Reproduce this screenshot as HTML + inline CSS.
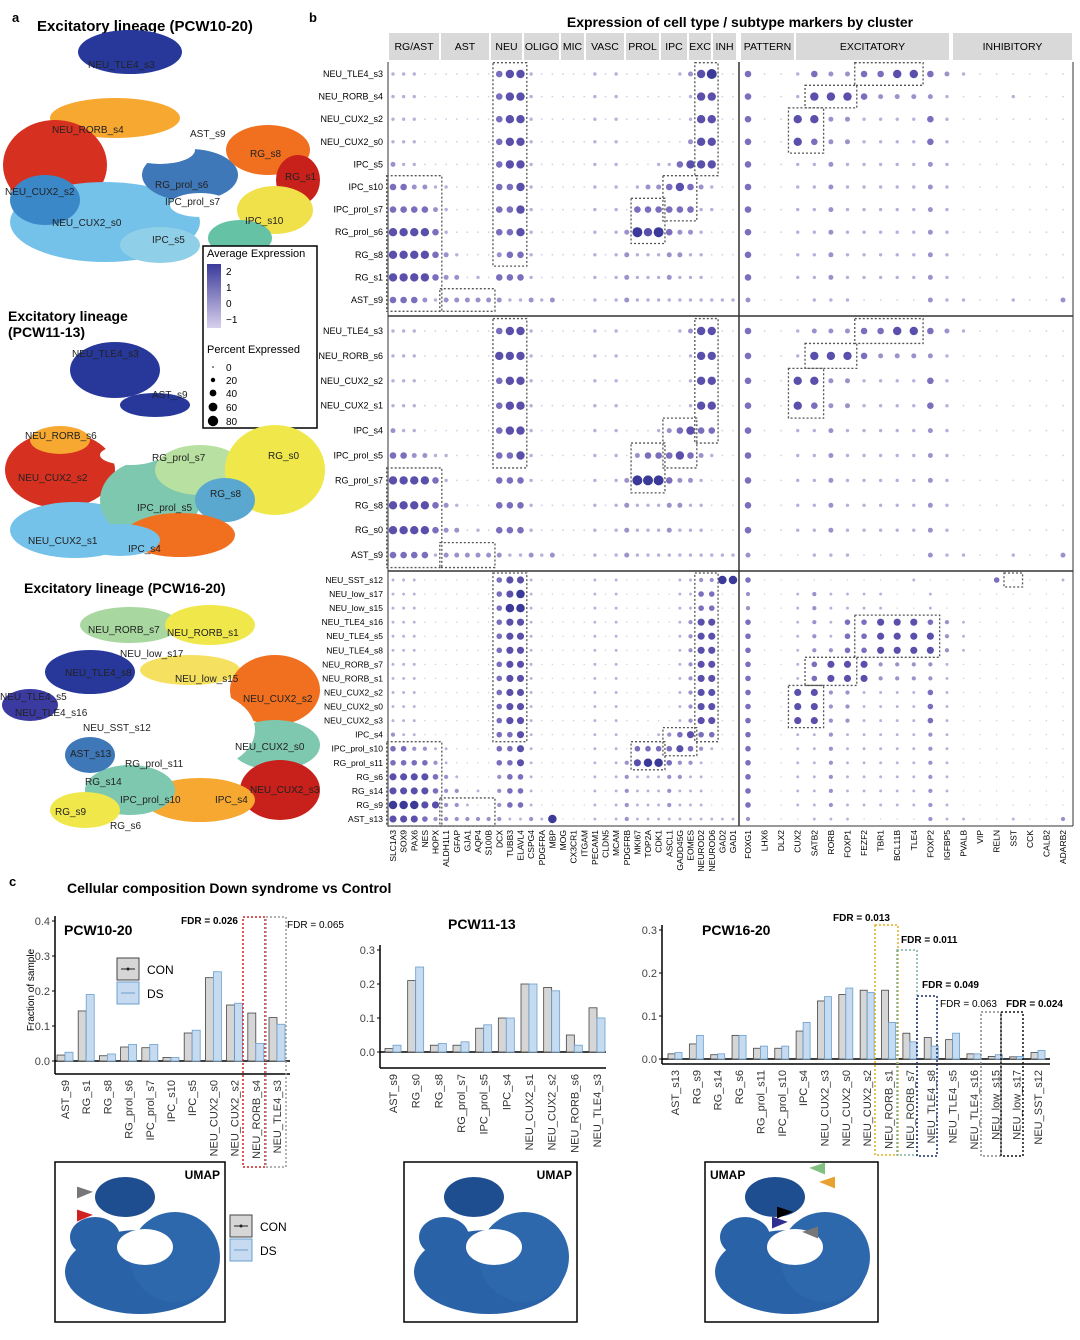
<!DOCTYPE html>
<html><head><meta charset="utf-8">
<style>
html,body{margin:0;padding:0;background:#fff;}
body{width:1080px;height:1340px;position:relative;overflow:hidden;font-family:"Liberation Sans",sans-serif;}
svg{position:absolute;left:0;top:0;}
</style></head>
<body>
<svg id="fig" width="1080" height="1340" viewBox="0 0 1080 1340" xmlns="http://www.w3.org/2000/svg" font-family="Liberation Sans, sans-serif">
<!-- Panel a -->
<g>
<text x="12" y="22" font-size="13" font-weight="bold">a</text>
<text x="37" y="31" font-size="15" font-weight="bold">Excitatory lineage (PCW10-20)</text>
<g>
<ellipse cx="130" cy="52" rx="52" ry="22" fill="#27389a"/>
<ellipse cx="115" cy="118" rx="65" ry="20" fill="#f6a830"/>
<ellipse cx="55" cy="165" rx="52" ry="45" fill="#d63020"/>
<ellipse cx="105" cy="222" rx="95" ry="40" fill="#74c2ea"/>
<ellipse cx="45" cy="200" rx="35" ry="25" fill="#3b88c8"/>
<ellipse cx="190" cy="175" rx="48" ry="26" fill="#3f78b8"/>
<ellipse cx="268" cy="150" rx="42" ry="25" fill="#f07020"/>
<ellipse cx="298" cy="180" rx="22" ry="25" fill="#c8201a"/>
<ellipse cx="275" cy="210" rx="38" ry="24" fill="#f0e04a"/>
<ellipse cx="240" cy="238" rx="32" ry="18" fill="#66c2a5"/>
<ellipse cx="160" cy="245" rx="40" ry="18" fill="#8fd0e8"/>
<ellipse cx="200" cy="205" rx="30" ry="12" fill="#fff"/>
<ellipse cx="160" cy="150" rx="35" ry="14" fill="#fff"/>
</g>
<g font-size="10" fill="#222">
<text x="88" y="68">NEU_TLE4_s3</text><text x="52" y="133">NEU_RORB_s4</text><text x="190" y="137">AST_s9</text>
<text x="250" y="157">RG_s8</text><text x="285" y="180">RG_s1</text><text x="5" y="195">NEU_CUX2_s2</text>
<text x="155" y="188">RG_prol_s6</text><text x="165" y="205">IPC_prol_s7</text><text x="52" y="226">NEU_CUX2_s0</text>
<text x="245" y="224">IPC_s10</text><text x="152" y="243">IPC_s5</text>
</g>
<g>
<rect x="203" y="246" width="114" height="182" fill="#fff" stroke="#000" stroke-width="1.5"/>
<text x="207" y="257" font-size="11">Average Expression</text>
<defs><linearGradient id="lg" x1="0" y1="0" x2="0" y2="1"><stop offset="0" stop-color="#3a3a9a"/><stop offset="1" stop-color="#d8d0ec"/></linearGradient></defs>
<rect x="207" y="264" width="14" height="64" fill="url(#lg)"/>
<text x="226" y="275" font-size="10">2</text><text x="226" y="291" font-size="10">1</text><text x="226" y="307" font-size="10">0</text><text x="226" y="323" font-size="10">−1</text>
<text x="207" y="353" font-size="11">Percent Expressed</text>
<circle cx="213" cy="367" r="0.8"/><circle cx="213" cy="380" r="2.2"/><circle cx="213" cy="393" r="3.4"/><circle cx="213" cy="407" r="4.4"/><circle cx="213" cy="421" r="5.2"/>
<text x="226" y="371" font-size="10">0</text><text x="226" y="384" font-size="10">20</text><text x="226" y="397" font-size="10">40</text><text x="226" y="411" font-size="10">60</text><text x="226" y="425" font-size="10">80</text>
</g>
<text x="8" y="321" font-size="14" font-weight="bold">Excitatory lineage</text>
<text x="8" y="337" font-size="14" font-weight="bold">(PCW11-13)</text>
<g>
<ellipse cx="115" cy="370" rx="45" ry="28" fill="#27389a"/>
<ellipse cx="155" cy="405" rx="35" ry="12" fill="#27389a"/>
<ellipse cx="60" cy="470" rx="55" ry="38" fill="#d63020"/>
<ellipse cx="75" cy="530" rx="65" ry="28" fill="#74c2ea"/>
<ellipse cx="150" cy="500" rx="50" ry="40" fill="#7ec8b0"/>
<ellipse cx="200" cy="470" rx="45" ry="25" fill="#b8e0a0"/>
<ellipse cx="275" cy="470" rx="50" ry="45" fill="#f0e84a"/>
<ellipse cx="225" cy="500" rx="30" ry="22" fill="#5aa8d0"/>
<ellipse cx="180" cy="535" rx="55" ry="22" fill="#f07020"/>
<ellipse cx="60" cy="440" rx="30" ry="14" fill="#f6a830"/>
<ellipse cx="120" cy="540" rx="40" ry="16" fill="#74c2ea"/>
<ellipse cx="130" cy="455" rx="30" ry="10" fill="#fff"/>
</g>
<g font-size="10" fill="#222">
<text x="72" y="357">NEU_TLE4_s3</text><text x="152" y="398">AST_s9</text><text x="25" y="439">NEU_RORB_s6</text>
<text x="152" y="461">RG_prol_s7</text><text x="268" y="459">RG_s0</text><text x="18" y="481">NEU_CUX2_s2</text>
<text x="210" y="497">RG_s8</text><text x="137" y="511">IPC_prol_s5</text><text x="28" y="544">NEU_CUX2_s1</text><text x="128" y="552">IPC_s4</text>
</g>
<text x="24" y="593" font-size="14" font-weight="bold">Excitatory lineage (PCW16-20)</text>
<g>
<ellipse cx="130" cy="625" rx="50" ry="18" fill="#a8d8a0"/>
<ellipse cx="210" cy="625" rx="45" ry="20" fill="#f0e84a"/>
<ellipse cx="90" cy="672" rx="45" ry="22" fill="#27389a"/>
<ellipse cx="30" cy="705" rx="28" ry="16" fill="#3a3aa0"/>
<ellipse cx="190" cy="670" rx="50" ry="15" fill="#f5e060"/>
<ellipse cx="275" cy="690" rx="45" ry="35" fill="#f07020"/>
<ellipse cx="275" cy="745" rx="45" ry="25" fill="#7ec8b0"/>
<ellipse cx="280" cy="790" rx="40" ry="30" fill="#c8201a"/>
<ellipse cx="200" cy="800" rx="55" ry="22" fill="#f6a830"/>
<ellipse cx="130" cy="790" rx="45" ry="25" fill="#7ec8b0"/>
<ellipse cx="85" cy="810" rx="35" ry="18" fill="#f0e84a"/>
<ellipse cx="90" cy="755" rx="25" ry="18" fill="#3f78b8"/>
<ellipse cx="195" cy="730" rx="60" ry="40" fill="#fff"/>
</g>
<g font-size="10" fill="#222">
<text x="88" y="633">NEU_RORB_s7</text><text x="167" y="636">NEU_RORB_s1</text><text x="120" y="657">NEU_low_s17</text>
<text x="65" y="676">NEU_TLE4_s8</text><text x="175" y="682">NEU_low_s15</text><text x="0" y="700">NEU_TLE4_s5</text>
<text x="243" y="702">NEU_CUX2_s2</text><text x="15" y="716">NEU_TLE4_s16</text><text x="83" y="731">NEU_SST_s12</text>
<text x="70" y="757">AST_s13</text><text x="235" y="750">NEU_CUX2_s0</text><text x="125" y="767">RG_prol_s11</text>
<text x="85" y="785">RG_s14</text><text x="250" y="793">NEU_CUX2_s3</text><text x="120" y="803">IPC_prol_s10</text>
<text x="215" y="803">IPC_s4</text><text x="55" y="815">RG_s9</text><text x="110" y="829">RG_s6</text>
</g>
</g>
<!-- Panel b -->
<g id="dotplot">
<text x="309" y="22" font-size="13" font-weight="bold">b</text>
<text x="740" y="27" font-size="14" font-weight="bold" text-anchor="middle">Expression of cell type / subtype markers by cluster</text>
</g>
<!-- Panel c -->
<g id="panelc">
<text x="9" y="886" font-size="13" font-weight="bold">c</text>
<text x="67" y="893" font-size="14" font-weight="bold">Cellular composition Down syndrome vs Control</text>
<text x="34" y="990" font-size="10" transform="rotate(-90 34 990)" text-anchor="middle">Fraction of sample</text>
</g>
<g id="bottom"></g>
</svg>
<script>
const NS='http://www.w3.org/2000/svg';
function mk(p,tag,at){const e=document.createElementNS(NS,tag);for(const k in at)e.setAttribute(k,at[k]);p.appendChild(e);return e;}
const svg=document.getElementById('fig');
const dp=document.getElementById('dotplot');

// ---- Dot plot data ----
const leftGenes=['SLC1A3','SOX9','PAX6','NES','HOPX','ALDH1L1','GFAP','GJA1','AQP4','S100B','DCX','TUBB3','ELAVL4','CSPG4','PDGFRA','MBP','MOG','CX3CR1','ITGAM','PECAM1','CLDN5','MCAM','PDGFRB','MKI67','TOP2A','CDK1','ASCL1','GADD45G','EOMES','NEUROD2','NEUROD6','GAD2','GAD1'];
const rightGenes=['FOXG1','LHX6','DLX2','CUX2','SATB2','RORB','FOXP1','FEZF2','TBR1','BCL11B','TLE4','FOXP2','IGFBP5','PVALB','VIP','RELN','SST','CCK','CALB2','ADARB2'];
const leftGroups=[['RG/AST',388,440],['AST',440,490],['NEU',490,523],['OLIGO',523,560],['MIC',560,585],['VASC',585,625],['PROL',625,660],['IPC',660,688],['EXC',688,712],['INH',712,737]];
const rightGroups=[['PATTERN',740,795],['EXCITATORY',795,950],['INHIBITORY',952,1073]];
const rows1=['NEU_TLE4_s3','NEU_RORB_s4','NEU_CUX2_s2','NEU_CUX2_s0','IPC_s5','IPC_s10','IPC_prol_s7','RG_prol_s6','RG_s8','RG_s1','AST_s9'];
const left1=['111000000034410000010100000124500','111000000034410000010100000014400','111000000034410000010100000014400','111000000034410000010100000024400','211000000034410000010100011344400','332211000033410000010101223432100','333321000033410000010103333331100','444431000033410000010125453221000','444432100023310000010121112211000','444432201033310000010121112111000','333212222221121200010121111111111'];
const right1=['30013223344321000000','30014443222210001000','30044221111310000000','30043221111310000000','30011211111210000000','30011211111210000000','30011211111210000000','30011211111210000000','30011211111210000000','30011211111210000000','20001110000211001002'];
const rows2=['NEU_TLE4_s3','NEU_RORB_s6','NEU_CUX2_s2','NEU_CUX2_s1','IPC_s4','IPC_prol_s5','RG_prol_s7','RG_s8','RG_s0','AST_s9'];
const left2=['111000000034410000010100000124400','111000000044410000010100000014400','111000000034410000010100000014400','111000000034410000010100000014400','211000000034410000010100012343300','332211000033410000010102333432100','444431000033310000010125553221000','444432100033310000010121112211000','444432201033310000010121112111000','333312222221121200010121111111111'];
const right2=['30012223344321000000','30014443222210000000','30044221111310000000','30043221111310000000','30011211111210000000','30011211111210000000','30011211111210000000','30011211111210000000','30011211111210000000','20001110000211001002'];
const rows3=['NEU_SST_s12','NEU_low_s17','NEU_low_s15','NEU_TLE4_s16','NEU_TLE4_s5','NEU_TLE4_s8','NEU_RORB_s7','NEU_RORB_s1','NEU_CUX2_s2','NEU_CUX2_s0','NEU_CUX2_s3','IPC_s4','IPC_prol_s10','RG_prol_s11','RG_s6','RG_s14','RG_s9','AST_s13'];
const left3=['111000000034410000010100000112255','111000000034510000010100000113300','111000000035510000010100000113300','111000000034410000010100000124400','111000000034410000010100000124400','111000000034410000010100000124400','111000000034410000010100000124400','111000000034410000010100000124400','111000000034410000010100000124400','111000000034410000010100000124400','111000000034410000010100000124400','211000000033410000010100012343300','332211000033410000010103333432100','333321000033410000010124553221000','444432100023310000010121112211000','444432201023310000010121112111000','555442210023310000010121112111000','444322222221121500010121111111111'],
right3=['30000000001000030001','20012111100100000000','20012111100100000000','30012133444321000000','30012133444421000000','30012233444421000000','30013444222210000000','30013444222210000000','30044221111310000000','30044221111310000000','30044221111310000000','30011211111210000000','30011211111210000000','30011211111210000000','30011211111210000000','30011211111210000000','30011211111210000000','20001110000211001002'];
// boxes: [side, c0, c1, r0, r1]
const boxes1=[['L',0,4,5,10],['L',5,9,10,10],['L',10,12,0,8],['L',23,25,6,7],['L',26,28,5,6],['L',29,30,0,4],['R',7,10,0,0],['R',4,6,1,1],['R',3,4,2,3]];
const boxes2=[['L',0,4,6,9],['L',5,9,9,9],['L',10,12,0,5],['L',23,25,5,6],['L',26,28,4,5],['L',29,30,0,4],['R',7,10,0,0],['R',4,6,1,1],['R',3,4,2,3]];
const boxes3=[['L',0,4,12,17],['L',5,9,16,17],['L',10,12,0,11],['L',23,25,12,13],['L',26,28,11,12],['L',29,30,0,11],['R',16,16,0,0],['R',7,11,3,5],['R',4,6,6,7],['R',3,4,8,10]];

const lx0=393,ldx=(733-393)/32,rx0=748,rdx=(1063-748)/19;
const colors=['#d4cfe6','#b7b0da','#9b92cc','#7a6fbd','#5a50ab','#3b3a98'];
const radii=[0.9,1.7,2.5,3.3,4.2,5.0];
const sections=[{rows:rows1,L:left1,R:right1,y0:74,dy:22.6,boxes:boxes1,top:62,bot:315},{rows:rows2,L:left2,R:right2,y0:331,dy:24.9,boxes:boxes2,top:317,bot:570},{rows:rows3,L:left3,R:right3,y0:580,dy:14.06,boxes:boxes3,top:572,bot:826}];

// headers
[...leftGroups,...rightGroups].forEach(g=>{
  const h=mk(dp,'rect',{x:g[1]+1,y:33,width:g[2]-g[1]-2,height:27,fill:'#d9d9d9'});
  
  
  const t=mk(dp,'text',{x:(g[1]+g[2])/2,y:50,'font-size':10.5,'text-anchor':'middle'});t.textContent=g[0];
  
  
});
// frame lines
mk(dp,'line',{x1:388,y1:62,x2:388,y2:826,stroke:'#333','stroke-width':1});
mk(dp,'line',{x1:739,y1:62,x2:739,y2:826,stroke:'#333','stroke-width':1.5});
mk(dp,'line',{x1:1073,y1:62,x2:1073,y2:826,stroke:'#333','stroke-width':1});
mk(dp,'line',{x1:388,y1:826,x2:1073,y2:826,stroke:'#333','stroke-width':1});
mk(dp,'line',{x1:388,y1:316,x2:1073,y2:316,stroke:'#333','stroke-width':1.5});
mk(dp,'line',{x1:388,y1:571,x2:1073,y2:571,stroke:'#333','stroke-width':1.5});

sections.forEach((s,si)=>{
  s.rows.forEach((r,ri)=>{
    const y=s.y0+ri*s.dy;
    const t=mk(dp,'text',{x:383,y:y+3,'font-size':si==2?8.5:9,'text-anchor':'end'});t.textContent=r;
    
    
    [...s.L[ri]].forEach((d,ci)=>{const v=+d;const c=mk(dp,'circle',{cx:lx0+ci*ldx,cy:y,r:radii[v]*(si==2?0.85:1),fill:colors[v]});
      
      });
    [...s.R[ri]].forEach((d,ci)=>{const v=+d;const c=mk(dp,'circle',{cx:rx0+ci*rdx,cy:y,r:radii[v]*(si==2?0.85:1),fill:colors[v]});
      
      });
  });
  s.boxes.forEach(b=>{
    const x0=b[0]=='L'?lx0:rx0,dx=b[0]=='L'?ldx:rdx;
    const bx=mk(dp,'rect',{x:x0+b[1]*dx-dx/2-1,y:s.y0+b[3]*s.dy-s.dy/2,width:(b[2]-b[1]+1)*dx+2,height:(b[4]-b[3]+1)*s.dy,fill:'none',stroke:'#555','stroke-width':1.3,'stroke-dasharray':'2,2'});
    
    
  });
});
leftGenes.forEach((g,i)=>{const x=lx0+i*ldx+3;const t=mk(dp,'text',{x:x,y:830,'font-size':8.5,'text-anchor':'end',transform:`rotate(-90 ${x} 830)`});t.textContent=g;
  
  });
rightGenes.forEach((g,i)=>{const x=rx0+i*rdx+3;const t=mk(dp,'text',{x:x,y:830,'font-size':8.5,'text-anchor':'end',transform:`rotate(-90 ${x} 830)`});t.textContent=g;
  
  });

// ---- Bar charts ----
const cats1=['AST_s9','RG_s1','RG_s8','RG_prol_s6','IPC_prol_s7','IPC_s10','IPC_s5','NEU_CUX2_s0','NEU_CUX2_s2','NEU_RORB_s4','NEU_TLE4_s3'];
const con1=[0.017,0.143,0.015,0.04,0.038,0.01,0.08,0.238,0.16,0.137,0.124];
const ds1=[0.025,0.19,0.02,0.047,0.047,0.01,0.088,0.255,0.165,0.05,0.105];
const cats2=['AST_s9','RG_s0','RG_s8','RG_prol_s7','IPC_prol_s5','IPC_s4','NEU_CUX2_s1','NEU_CUX2_s2','NEU_RORB_s6','NEU_TLE4_s3'];
const con2=[0.01,0.21,0.02,0.02,0.07,0.1,0.2,0.19,0.05,0.13];
const ds2=[0.02,0.25,0.025,0.03,0.08,0.1,0.2,0.18,0.02,0.1];
const cats3=['AST_s13','RG_s9','RG_s14','RG_s6','RG_prol_s11','IPC_prol_s10','IPC_s4','NEU_CUX2_s3','NEU_CUX2_s0','NEU_CUX2_s2','NEU_RORB_s1','NEU_RORB_s7','NEU_TLE4_s8','NEU_TLE4_s5','NEU_TLE4_s16','NEU_low_s15','NEU_low_s17','NEU_SST_s12'];
const con3=[0.012,0.035,0.01,0.055,0.025,0.025,0.065,0.135,0.15,0.16,0.16,0.06,0.05,0.045,0.012,0.006,0.005,0.015];
const ds3=[0.015,0.055,0.012,0.055,0.03,0.03,0.085,0.145,0.165,0.155,0.085,0.04,0.03,0.06,0.012,0.01,0.006,0.02];
const ticks1=[0,0.1,0.2,0.3,0.4],ticks2=[0,0.1,0.2,0.3],ticks3=[0,0.1,0.2,0.3];
const pc=document.getElementById('panelc');
function barChart(o){
  const g=mk(pc,'g',{});
  
  
  const yS=v=>o.y0-(v/o.ymax)*(o.y0-o.ytop);
  const n=o.cats.length,xS=i=>o.cx0+i*(o.cx1-o.cx0)/(n-1);
  mk(g,'line',{x1:o.ax,y1:o.ytop-5,x2:o.ax,y2:o.ybot,stroke:'#000','stroke-width':1.5});
  mk(g,'line',{x1:o.ax,y1:o.ybot,x2:o.ax2,y2:o.ybot,stroke:'#000','stroke-width':1.5});
  mk(g,'line',{x1:o.ax,y1:yS(0),x2:o.ax2,y2:yS(0),stroke:'#000','stroke-width':1.5});
  o.ticks.forEach(t=>{const y=yS(t);mk(g,'line',{x1:o.ax-3,y1:y,x2:o.ax,y2:y,stroke:'#000'});
    const tx=mk(g,'text',{x:o.ax-5,y:y+4,'font-size':11,'text-anchor':'end',fill:'#444'});tx.textContent=t.toFixed(1);
    
    });
  const bw=o.bw;
  o.cats.forEach((c,i)=>{const x=xS(i);
    const b1=mk(g,'rect',{x:x-bw,y:yS(o.con[i]),width:bw,height:yS(0)-yS(o.con[i]),fill:'#d6d6d6',stroke:'#444','stroke-width':0.8});
    
    
    const b2=mk(g,'rect',{x:x,y:yS(o.ds[i]),width:bw,height:yS(0)-yS(o.ds[i]),fill:'#c6dbef',stroke:'#6a9fd0','stroke-width':0.8});
    
    
    const tx=mk(g,'text',{x:x+4,y:o.ybot+6,'font-size':11,'text-anchor':'end',fill:'#333',transform:`rotate(-90 ${x+4} ${o.ybot+6})`});tx.textContent=c;
    
    
  });
  const tt=mk(g,'text',{x:o.tx,y:o.ty,'font-size':14,'font-weight':'bold'});tt.textContent=o.title;
  
  
}
barChart({name:'bar-chart-pcw10-20',cats:cats1,con:con1,ds:ds1,ticks:ticks1,ymax:0.4,y0:1061,ytop:921,ybot:1074,ax:55,ax2:290,cx0:65,cx1:277,bw:8,title:'PCW10-20',tx:64,ty:935});
barChart({name:'bar-chart-pcw11-13',cats:cats2,con:con2,ds:ds2,ticks:ticks2,ymax:0.3,y0:1052,ytop:950,ybot:1068,ax:380,ax2:606,cx0:393,cx1:597,bw:8,title:'PCW11-13',tx:448,ty:929});
barChart({name:'bar-chart-pcw16-20',cats:cats3,con:con3,ds:ds3,ticks:ticks3,ymax:0.3,y0:1059,ytop:930,ybot:1064,ax:662,ax2:1050,cx0:675,cx1:1038,bw:7,title:'PCW16-20',tx:702,ty:935});

// FDR annotations & boxes
const fdr=[[181,924,'FDR = 0.026',1],[287,928,'FDR = 0.065',0],[833,921,'FDR = 0.013',1],[901,943,'FDR = 0.011',1],[922,988,'FDR = 0.049',1],[940,1007,'FDR = 0.063',0],[1006,1007,'FDR = 0.024',1]];
fdr.forEach(f=>{const t=mk(pc,'text',{x:f[0],y:f[1],'font-size':10,'font-weight':f[3]?'bold':'normal'});t.textContent=f[2];
  
  });
const hl=[[243,917,22,250,'#d02020'],[266,917,20,250,'#999'],[875,925,23,230,'#e0b020'],[897,950,20,205,'#7ab0a0'],[917,996,20,160,'#1a2a6a'],[981,1012,20,144,'#888'],[1001,1012,22,144,'#111']];
hl.forEach(h=>{const r=mk(pc,'rect',{x:h[0],y:h[1],width:h[2],height:h[3],fill:'none',stroke:h[4],'stroke-width':1.5,'stroke-dasharray':'2,2'});
  
  });
// legends
function legend(x,y,name){const g=mk(pc,'g',{});
  
  
  mk(g,'rect',{x:x,y:y,width:22,height:22,fill:'#d6d6d6',stroke:'#444'});
  mk(g,'line',{x1:x+4,y1:y+11,x2:x+18,y2:y+11,stroke:'#222'});mk(g,'circle',{cx:x+11,cy:y+11,r:1.5,fill:'#222'});
  mk(g,'rect',{x:x,y:y+24,width:22,height:22,fill:'#c6dbef',stroke:'#6a9fd0'});
  mk(g,'line',{x1:x+4,y1:y+35,x2:x+18,y2:y+35,stroke:'#6a9fd0'});
  const a=mk(g,'text',{x:x+30,y:y+16,'font-size':12});a.textContent='CON';
  const b=mk(g,'text',{x:x+30,y:y+40,'font-size':12});b.textContent='DS';}
legend(117,958,'legend-top');legend(230,1215,'legend-bottom');

// bottom umaps
const bt=document.getElementById('bottom');
const ub=[[55,1162,170,160,'umap-pcw10-20-ds'],[404,1162,173,160,'umap-pcw11-13-ds'],[705,1162,173,160,'umap-pcw16-20-ds']];
ub.forEach((u,k)=>{const g=mk(bt,'g',{});
  
  
  mk(g,'rect',{x:u[0],y:u[1],width:u[2],height:u[3],fill:'#fff',stroke:'#000','stroke-width':1.5});
  const t=mk(g,'text',{x:k==2?u[0]+5:u[0]+u[2]-5,y:u[1]+17,'font-size':12,'font-weight':'bold','text-anchor':k==2?'start':'end'});t.textContent='UMAP';
  const ox=u[0],oy=u[1];
  mk(g,'ellipse',{cx:ox+85,cy:oy+110,rx:75,ry:42,fill:'#2a62a8'});
  mk(g,'ellipse',{cx:ox+120,cy:oy+95,rx:45,ry:45,fill:'#2d68ad'});
  mk(g,'ellipse',{cx:ox+70,cy:oy+35,rx:30,ry:20,fill:'#1e4e90'});
  mk(g,'ellipse',{cx:ox+40,cy:oy+75,rx:25,ry:20,fill:'#2a62a8'});
  mk(g,'ellipse',{cx:ox+90,cy:oy+85,rx:28,ry:18,fill:'#fff'});
});
// arrows
[[90,1192,'#777',1],[90,1215,'#d02020',1],[812,1168,'#80c080',-1],[822,1182,'#e8a030',-1],[785,1222,'#303090',1],[790,1212,'#000',1],[805,1232,'#777',-1]].forEach(a=>{
  const p=mk(bt,'path',{d:`M${a[0]-12*a[3]} ${a[1]-4} L${a[0]} ${a[1]} L${a[0]-12*a[3]} ${a[1]+5} Z`,fill:a[2],stroke:a[2],'stroke-width':2});
  
  });
</script>
</body></html>
